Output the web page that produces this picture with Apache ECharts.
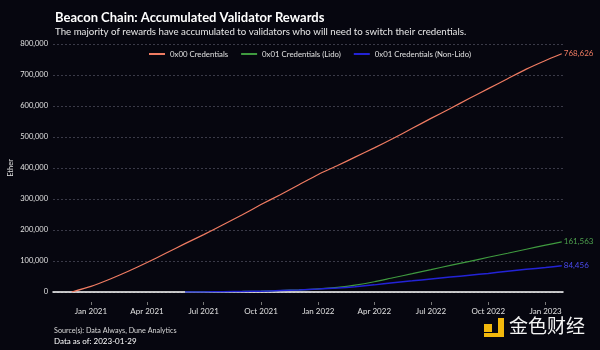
<!DOCTYPE html>
<html>
<head>
<meta charset="utf-8">
<script src="https://cdn.jsdelivr.net/npm/echarts@6/dist/echarts.min.js"></script>
<style>
  html, body { margin: 0; padding: 0; background: #06060f; }
  #chart { width: 600px; height: 350px; }
</style>
</head>
<body>
<div id="chart"></div>
<script>
// dates (month starts)
var dates00 = ['2020-12-01', '2021-01-01', '2021-02-01', '2021-03-01', '2021-04-01', '2021-05-01',
  '2021-06-01', '2021-07-01', '2021-08-01', '2021-09-01', '2021-10-01', '2021-11-01', '2021-12-01',
  '2022-01-01', '2022-02-01', '2022-03-01', '2022-04-01', '2022-05-01', '2022-06-01', '2022-07-01',
  '2022-08-01', '2022-09-01', '2022-10-01', '2022-11-01', '2022-12-01', '2023-01-01', '2023-01-27'];
var cred00 = [0, 18000, 42000, 66000, 95000, 125000, 156000, 185000, 217000, 249000, 282000, 314000, 346000,
  379000, 408000, 435000, 465000, 495000, 528000, 560000, 592000, 625000, 656000, 688000, 719000, 747000, 768626];

var dates01 = ['2021-06-01', '2021-07-01', '2021-08-01', '2021-09-01', '2021-10-01', '2021-11-01', '2021-12-01',
  '2022-01-01', '2022-02-01', '2022-03-01', '2022-04-01', '2022-05-01', '2022-06-01', '2022-07-01',
  '2022-08-01', '2022-09-01', '2022-10-01', '2022-11-01', '2022-12-01', '2023-01-01', '2023-01-27'];
var credLido = [0, 300, 900, 1800, 3000, 4800, 7000, 10000, 15000, 22000, 33000, 46000, 59000, 72000,
  86000, 99000, 112000, 125000, 138000, 151000, 161563];
var credNonLido = [0, 300, 900, 1700, 2800, 4500, 6500, 9500, 13000, 17000, 23000, 30000, 36000, 42000,
  48000, 54000, 60000, 67000, 73000, 79000, 84456];

var seriesNames = ['0x00 Credentials', '0x01 Credentials (Lido)', '0x01 Credentials (Non-Lido)'];
var monthNames = ['Jan', 'Feb', 'Mar', 'Apr', 'May', 'Jun', 'Jul', 'Aug', 'Sep', 'Oct', 'Nov', 'Dec'];
var yTicks = [0, 100000, 200000, 300000, 400000, 500000, 600000, 700000, 800000];

var xMin = '2020-11-01';
var xMax = '2023-01-29';

function zip(ds, vs) {
  return ds.map(function (d, i) { return [d, vs[i]]; });
}
function fmtNum(v) {
  return String(Math.round(v)).replace(/\B(?=(\d{3})+(?!\d))/g, ',');
}

var myChart = echarts.init(document.getElementById('chart'));
var font = 'Lato';
var colors = ['#ef7b62', '#3f9a3f', '#2323d6'];

var endLabel = function (c) {
  return {
    show: true,
    color: c,
    fontSize: 8,
    fontFamily: font,
    distance: 2,
    formatter: function (p) { return fmtNum(p.value[1]); }
  };
};

myChart.setOption({
  backgroundColor: '#06060f',
  animation: false,
  textStyle: { fontFamily: font },
  title: {
    text: 'Beacon Chain: Accumulated Validator Rewards',
    subtext: 'The majority of rewards have accumulated to validators who will need to switch their credentials.',
    left: 50,
    top: 6,
    itemGap: 3,
    textStyle: { color: '#ffffff', fontSize: 13, fontWeight: 'bold', fontFamily: font },
    subtextStyle: { color: '#e8e8e8', fontSize: 9.7, fontFamily: font }
  },
  legend: {
    top: 45,
    left: 144,
    itemWidth: 16,
    itemHeight: 2,
    itemGap: 13,
    icon: 'rect',
    textStyle: { color: '#e0e0e0', fontSize: 7.8, fontFamily: font },
    data: seriesNames
  },
  grid: { left: 53, right: 37, top: 44, bottom: 58, outerBoundsMode: 'none' },
  xAxis: [
    {
      type: 'time',
      min: xMin,
      max: xMax,
      axisLine: { show: true, lineStyle: { color: '#ffffff', width: 1.5 } },
      axisTick: { show: false },
      axisLabel: { show: false },
      splitLine: { show: false }
    },
    {
      type: 'time',
      min: xMin,
      max: xMax,
      position: 'bottom',
      offset: 10,
      minInterval: 3600 * 1000 * 24 * 89,
      maxInterval: 3600 * 1000 * 24 * 93,
      axisLine: { show: false },
      axisTick: { show: true, length: 3, lineStyle: { color: '#777' } },
      axisLabel: {
        color: '#e0e0e0',
        fontSize: 8,
        margin: 5,
        hideOverlap: false,
        formatter: function (v) {
          var d = new Date(v);
          return monthNames[d.getMonth()] + ' ' + d.getFullYear();
        }
      },
      splitLine: { show: false }
    }
  ],
  yAxis: {
    type: 'value',
    min: yTicks[0],
    max: yTicks[yTicks.length - 1],
    interval: 100000,
    name: 'Ether',
    nameLocation: 'middle',
    nameGap: 38,
    nameMoveOverlap: false,
    nameTextStyle: { color: '#e0e0e0', fontSize: 7.5 },
    axisLine: { show: false },
    axisTick: { show: false },
    axisLabel: { color: '#e0e0e0', fontSize: 7.5, margin: 5, formatter: fmtNum },
    splitLine: { show: true, lineStyle: { color: '#3a3a48', type: [2, 2], width: 1 } }
  },
  series: [
    {
      name: seriesNames[0],
      type: 'line',
      data: zip(dates00, cred00),
      showSymbol: false,
      smooth: 0.2,
      lineStyle: { color: colors[0], width: 1.2 },
      itemStyle: { color: colors[0] },
      endLabel: endLabel(colors[0])
    },
    {
      name: seriesNames[1],
      type: 'line',
      data: zip(dates01, credLido),
      showSymbol: false,
      smooth: 0.2,
      lineStyle: { color: colors[1], width: 1.2 },
      itemStyle: { color: colors[1] },
      endLabel: endLabel('#4ea04e')
    },
    {
      name: seriesNames[2],
      type: 'line',
      data: zip(dates01, credNonLido),
      showSymbol: false,
      smooth: 0.2,
      lineStyle: { color: colors[2], width: 1.5 },
      itemStyle: { color: colors[2] },
      endLabel: endLabel('#4b4bf0')
    }
  ],
  graphic: [
    {
      type: 'text', left: 54, top: 327,
      style: { text: 'Source(s): Data Always, Dune Analytics', fill: '#d8d8d8', fontSize: 7.2, fontFamily: font }
    },
    {
      type: 'text', left: 54, top: 337,
      style: { text: 'Data as of: 2023-01-29', fill: '#ffffff', fontSize: 8, fontFamily: font }
    },
    // watermark logo
    { type: 'rect', shape: { x: 484, y: 324, width: 8, height: 8 }, style: { fill: '#f2b80c' } },
    { type: 'rect', shape: { x: 498, y: 318, width: 6, height: 19 }, style: { fill: '#f2b80c' } },
    { type: 'rect', shape: { x: 484, y: 333, width: 20, height: 4 }, style: { fill: '#f2b80c' } },
    {
      type: 'text', left: 509, top: 316,
      style: { text: '金色财经', fill: '#f4f4f4', fontSize: 19, fontFamily: 'Noto Sans CJK SC' }
    }
  ]
});
</script>
</body>
</html>
